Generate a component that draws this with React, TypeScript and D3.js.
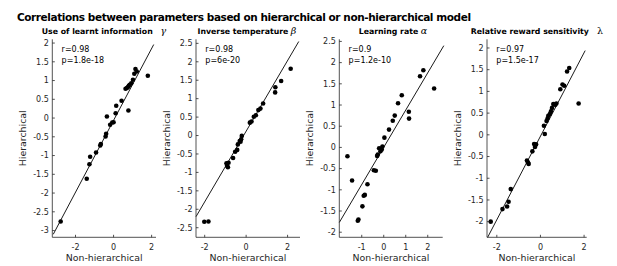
import React from "react";
import * as d3 from "d3";

const mainTitle = "Correlations between parameters based on hierarchical or non-hierarchical model";
const panelTitles = ["Use of learnt information", "Inverse temperature", "Learning rate", "Relative reward sensitivity"];
const panelSymbols = ["γ", "β", "α", "λ"];
const rTexts = ["r=0.98", "r=0.98", "r=0.9", "r=0.97"];
const pTexts = ["p=1.8e-18", "p=6e-20", "p=1.2e-10", "p=1.5e-17"];
const xLabel = "Non-hierarchical";
const yLabel = "Hierarchical";

const p1X = [-2.78, -1.41, -1.23, -1.27, -0.92, -0.70, -0.67, -0.42, -0.39, -0.35, -0.18, -0.07, 0.0, 0.11, 0.14, 0.42, 0.78, 0.63, 0.76, 0.85, 0.93, 1.02, 1.09, 1.15, 1.22, 1.80, 0.70, 0.80];
const p1Y = [-2.76, -1.62, -1.03, -1.23, -0.92, -0.73, -0.69, -0.49, -0.42, 0.04, -0.18, -0.12, -0.11, 0.13, 0.33, 0.46, 0.20, 0.78, 0.83, 0.89, 0.93, 1.02, 1.18, 1.31, 1.24, 1.13, 0.80, 0.86];

const p2X = [-2.02, -1.82, -0.95, -0.92, -0.88, -0.85, -0.63, -0.53, -0.43, -0.40, -0.31, -0.24, -0.21, -0.27, 0.18, 0.26, 0.37, 0.47, 0.59, 0.69, 0.82, 1.40, 1.41, 1.69, 2.15];
const p2Y = [-2.34, -2.33, -0.75, -0.82, -0.86, -0.74, -0.61, -0.44, -0.39, -0.24, -0.15, -0.10, -0.01, -0.17, 0.35, 0.38, 0.51, 0.55, 0.69, 0.73, 0.87, 1.17, 1.31, 1.48, 1.81];

const p3X = [-1.65, -1.44, -1.18, -1.15, -0.97, -0.91, -0.86, -0.74, -0.45, -0.36, -0.30, -0.27, -0.21, -0.15, -0.09, -0.06, 0.03, 0.24, 0.41, 0.50, 0.65, 0.82, 1.14, 1.15, 1.65, 1.80, 2.29];
const p3Y = [-0.21, -0.78, -1.73, -1.70, -1.39, -1.14, -1.12, -0.87, -0.54, -0.55, -0.20, -0.17, -0.02, -0.09, -0.05, 0.02, 0.23, 0.42, 0.63, 0.75, 1.04, 1.23, 0.84, 0.68, 1.68, 1.82, 1.39];

const p4X = [-2.28, -1.74, -1.53, -1.46, -1.36, -0.62, -0.57, -0.54, -0.37, -0.29, -0.25, -0.20, 0.16, 0.20, 0.28, 0.33, 0.36, 0.43, 0.48, 0.53, 0.59, 0.68, 0.73, 0.91, 1.01, 1.09, 1.22, 1.32, 1.75];
const p4Y = [-2.0, -1.71, -1.65, -1.54, -1.25, -0.59, -0.64, -0.67, -0.38, -0.21, -0.28, -0.22, 0.21, 0.02, 0.32, 0.38, 0.44, 0.48, 0.54, 0.62, 0.71, 0.69, 0.72, 1.05, 1.16, 1.13, 1.46, 1.54, 0.72];

const xDomains = [[-3.22, 2.23], [-2.42, 2.6], [-2.02, 2.68], [-2.45, 2.12]];
const yDomains = [[-3.18, 2.1], [-2.76, 2.61], [-2.12, 2.55], [-2.36, 2.2]];
const xTickVals = [[-2, 0, 2], [-2, 0, 2], [-1, 0, 1, 2], [-2, 0, 2]];
const yTickVals = [
  [-3, -2.5, -2, -1.5, -1, -0.5, 0, 0.5, 1, 1.5, 2],
  [-2.5, -2, -1.5, -1, -0.5, 0, 0.5, 1, 1.5, 2, 2.5],
  [-2, -1.5, -1, -0.5, 0, 0.5, 1, 1.5, 2, 2.5],
  [-2, -1.5, -1, -0.5, 0, 0.5, 1, 1.5, 2],
];
// fitted line endpoints [x0, y0, x1, y1]
const fitLines = [
  [-3.17, -3.1, 2.11, 1.96],
  [-2.42, -2.2, 2.54, 2.55],
  [-2.02, -1.77, 2.73, 2.4],
  [-2.42, -2.36, 2.05, 1.94],
];

const pointsX = [p1X, p2X, p3X, p4X];
const pointsY = [p1Y, p2Y, p3Y, p4Y];

// layout
const panelLeft = [52.3, 196, 339.3, 487];
const panelRight = [156, 300, 442.7, 586.7];
const plotTop = 39.3;
const plotBottom = 237.3;
const symbolX = [163.3, 293.5, 424, 600];
const titleStart = [41.7, 197.5, 358.7, 470.7];

const FONT = "DejaVu Sans, Liberation Sans, sans-serif";
const AX = "#262626";

const fmt = (v: number) => String(v);

function Panel({ i }: { i: number }) {
  const x = d3.scaleLinear().domain(xDomains[i]).range([panelLeft[i], panelRight[i]]);
  const y = d3.scaleLinear().domain(yDomains[i]).range([plotBottom, plotTop]);
  const fl = fitLines[i];
  const tl = 2.5;
  const midY = (plotTop + plotBottom) / 2;
  const midX = (panelLeft[i] + panelRight[i]) / 2;
  return (
    <g>
      <text x={titleStart[i]} y={34} fontFamily={FONT} fontWeight="bold" fontSize={7.8} fill="#000">
        {panelTitles[i]}
      </text>
      <text x={symbolX[i]} y={34} fontFamily="DejaVu Serif, serif" fontStyle={i === 3 ? "normal" : "italic"} fontSize={9.5} fill="#000" textAnchor="middle">
        {panelSymbols[i]}
      </text>
      <line x1={x(fl[0])} y1={y(fl[1])} x2={x(fl[2])} y2={y(fl[3])} stroke="#000" strokeWidth={0.9} />
      {pointsX[i].map((vx, k) => (
        <circle key={k} cx={x(vx)} cy={y(pointsY[i][k])} r={2.3} fill="#000" />
      ))}
      <line x1={panelLeft[i]} y1={plotTop} x2={panelLeft[i]} y2={plotBottom} stroke={AX} strokeWidth={0.8} />
      <line x1={panelLeft[i]} y1={plotBottom} x2={panelRight[i]} y2={plotBottom} stroke={AX} strokeWidth={0.8} />
      {yTickVals[i].map((t) => (
        <g key={"y" + t}>
          <line x1={panelLeft[i]} x2={panelLeft[i] + tl} y1={y(t)} y2={y(t)} stroke={AX} strokeWidth={0.8} />
          <text x={panelLeft[i] - 3.5} y={y(t)} dy="0.35em" textAnchor="end" fontFamily={FONT} fontSize={8} fill={AX}>
            {fmt(t)}
          </text>
        </g>
      ))}
      {xTickVals[i].map((t) => (
        <g key={"x" + t}>
          <line x1={x(t)} x2={x(t)} y1={plotBottom} y2={plotBottom - tl} stroke={AX} strokeWidth={0.8} />
          <text x={x(t)} y={249.5} textAnchor="middle" fontFamily={FONT} fontSize={8} fill={AX}>
            {fmt(t)}
          </text>
        </g>
      ))}
      <text x={midX} y={261} textAnchor="middle" fontFamily={FONT} fontSize={9.4} fill={AX}>
        {xLabel}
      </text>
      <text transform={`translate(${panelLeft[i] - 26},${midY}) rotate(-90)`} textAnchor="middle" fontFamily={FONT} fontSize={9.4} fill={AX}>
        {yLabel}
      </text>
      <text x={panelLeft[i] + 9.3} y={52} fontFamily={FONT} fontSize={8} fill="#000">
        {rTexts[i]}
      </text>
      <text x={panelLeft[i] + 9.3} y={63} fontFamily={FONT} fontSize={8} fill="#000">
        {pTexts[i]}
      </text>
    </g>
  );
}

export default function App() {
  return (
    <svg width={617} height={266} viewBox="0 0 617 266" style={{ display: "block", position: "absolute", left: 0, top: 0, background: "#fff" }}>
      <rect x={0} y={0} width={617} height={266} fill="#fff" />
      <text x={17} y={20.5} fontFamily={FONT} fontWeight="bold" fontSize={10.5} textLength={454} lengthAdjust="spacing" fill="#000">
        {mainTitle}
      </text>
      {[0, 1, 2, 3].map((i) => (
        <Panel key={i} i={i} />
      ))}
    </svg>
  );
}
